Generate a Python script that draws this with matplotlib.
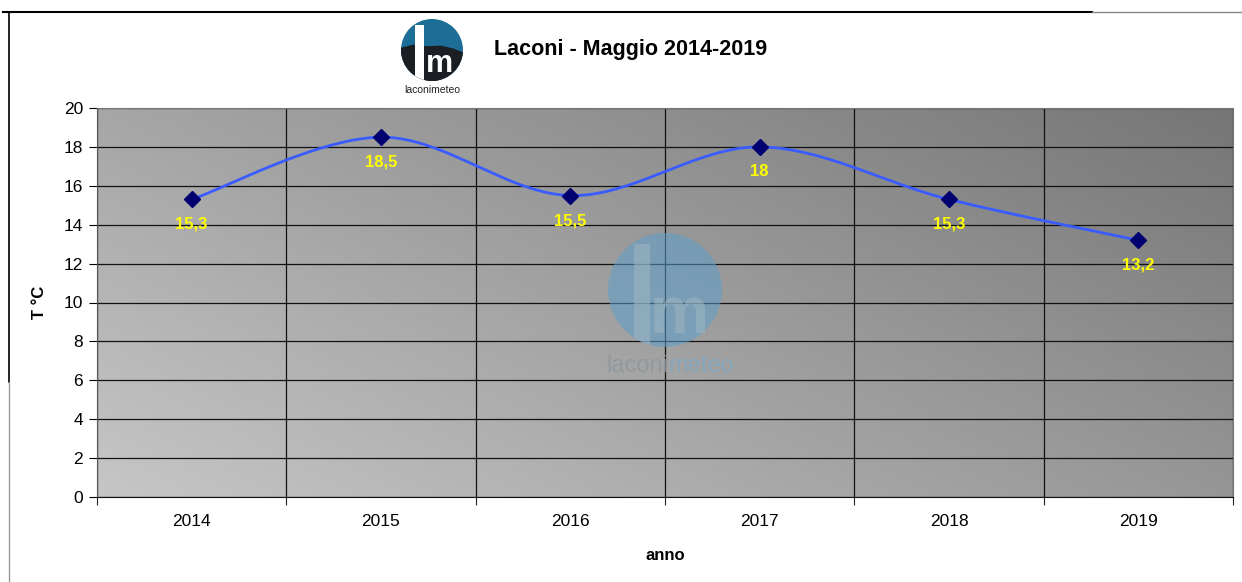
import numpy as np
import matplotlib
matplotlib.use("Agg")
import matplotlib.pyplot as plt
from matplotlib.patches import Circle, Rectangle, Polygon
from matplotlib.lines import Line2D

plt.rcParams['font.family'] = ['Liberation Sans', 'DejaVu Sans']

# dati
anni = ["2014", "2015", "2016", "2017", "2018", "2019"]
temperature = [15.3, 18.5, 15.5, 18.0, 15.3, 13.2]
etichette = ["15,3", "18,5", "15,5", "18", "15,3", "13,2"]
titolo = "Laconi - Maggio 2014-2019"


# curva smussata stile Excel (bezier cubica)
def curva_smussata(x, y, n=40):
    x = np.asarray(x, float)
    y = np.asarray(y, float)
    px, py = [], []
    for i in range(len(x) - 1):
        x0, y0 = (x[i - 1], y[i - 1]) if i > 0 else (x[i], y[i])
        x3, y3 = (x[i + 2], y[i + 2]) if i + 2 < len(x) else (x[i + 1], y[i + 1])
        c1x = x[i] + (x[i + 1] - x0) / 6
        c1y = y[i] + (y[i + 1] - y0) / 6
        c2x = x[i + 1] - (x3 - x[i]) / 6
        c2y = y[i + 1] - (y3 - y[i]) / 6
        t = np.linspace(0, 1, n)
        bx = (1-t)**3*x[i] + 3*(1-t)**2*t*c1x + 3*(1-t)*t**2*c2x + t**3*x[i+1]
        by = (1-t)**3*y[i] + 3*(1-t)**2*t*c1y + 3*(1-t)*t**2*c2y + t**3*y[i+1]
        px.extend(bx)
        py.extend(by)
    return px, py


def logo(fig, cx, cy, r, col_cerchio, col_scuro, col_chiaro, m_size=30, zorder=1, alpha=1.0):
    # cx, cy, r in pixel
    W, H = fig.get_size_inches() * fig.dpi
    ax = fig.add_axes([(cx - r) / W, (cy - r) / H, 2 * r / W, 2 * r / H], zorder=zorder)
    ax.set_xlim(-1, 1)
    ax.set_ylim(-1, 1)
    ax.axis('off')
    ax.patch.set_alpha(0)
    c = Circle((0, 0), 1, color=col_cerchio, alpha=alpha, lw=0)
    ax.add_patch(c)
    if col_scuro is not None:
        scuro = Polygon([(-1, -1), (-1, 0.05), (-0.6, 0.15), (-0.2, 0.1), (0.3, 0.12),
                         (0.7, 0.02), (1, -0.1), (1, -1)], color=col_scuro, alpha=alpha)
        ax.add_patch(scuro)
        scuro.set_clip_path(c)
    barra = Rectangle((-0.55, -1.2), 0.28, 2.0, color=col_chiaro, alpha=alpha, lw=0)
    ax.add_patch(barra)
    barra.set_clip_path(c)
    ax.text(0.25, -0.45, "m", color=col_chiaro, fontsize=m_size, fontweight='bold',
            ha='center', va='center', alpha=alpha)
    return ax


fig = plt.figure(figsize=(12.42, 5.82), dpi=100)
ax = fig.add_axes([97 / 1242, 1 - 497 / 582, 1136 / 1242, 389 / 582], zorder=0)

x = np.arange(len(anni))
ax.set_xlim(-0.5, len(anni) - 0.5)
ax.set_ylim(0, 20)

# sfondo sfumato
gx, gy = np.meshgrid(np.linspace(0, 1, 200), np.linspace(0, 1, 200))
g = (gx * 0.6 + gy * 0.4)
ax.imshow(g, extent=[0, 1, 0, 1], transform=ax.transAxes, origin='lower',
          cmap=matplotlib.colors.LinearSegmentedColormap.from_list('g', ['#c6c6c6', '#767676']),
          aspect='auto', zorder=0)

ax.set_yticks(np.arange(0, 21, 2))
ax.set_xticks(x)
ax.set_xticklabels(anni)
ax.set_xticks(np.arange(-0.5, len(anni), 1), minor=True)
ax.tick_params(axis='x', which='major', length=0, pad=12, labelsize=12.5)
ax.tick_params(axis='x', which='minor', length=6, width=0.8, color='#222222')
ax.tick_params(axis='y', length=6, width=0.8, labelsize=12.5, pad=4)
ax.grid(axis='y', color='#111111', linewidth=0.9, zorder=1)
ax.grid(axis='x', which='minor', color='#111111', linewidth=0.9, zorder=1)

for s in ['top', 'right']:
    ax.spines[s].set_color('#777777')
ax.spines['left'].set_color('#555555')
ax.spines['bottom'].set_color('#111111')

# watermark semitrasparente
logo(fig, 665, 582 - 290, 57, '#5f9fcc', None, '#9fb6c4', m_size=48, zorder=1, alpha=0.55)
fig.text(668 / 1242, 1 - 366 / 582, "laconi", color='#8e979d', fontsize=17,
         ha='right', va='center', zorder=2, alpha=0.8)
fig.text(668 / 1242, 1 - 366 / 582, "meteo", color='#7fa7c2', fontsize=17,
         ha='left', va='center', zorder=2, alpha=0.8)

# curva in un asse trasparente sopra il watermark
ax2 = fig.add_axes(ax.get_position(), zorder=3)
ax2.set_xlim(ax.get_xlim())
ax2.set_ylim(ax.get_ylim())
ax2.axis('off')
ax2.patch.set_alpha(0)
sx, sy = curva_smussata(x, temperature)
ax2.plot(sx, sy, color='#3a5cff', linewidth=2, zorder=3)
ax2.plot(x, temperature, linestyle='none', marker='D', markersize=8,
         color='#000070', zorder=4)
for xi, yi, lab in zip(x, temperature, etichette):
    ax2.annotate(lab, (xi, yi), xytext=(0, -18), textcoords='offset points',
                 ha='center', va='center', color='#ffff00', fontsize=12,
                 fontweight='bold', zorder=5)

ax.set_ylabel("T °C", fontsize=12, fontweight='bold', labelpad=12)
ax.set_xlabel("anno", fontsize=12, fontweight='bold', labelpad=14)

# titolo e logo
fig.text(494 / 1242, 1 - 50 / 582, titolo, fontsize=15.5, fontweight='bold',
         ha='left', va='center')
logo(fig, 432, 582 - 50, 31, '#1c6e97', '#1b1f24', 'white', m_size=22)
fig.text(432 / 1242, 1 - 90 / 582, "laconimeteo", fontsize=7.5, ha='center',
         va='center', color='#222222')

# cornice
fig.add_artist(Line2D([3 / 1242, 1092 / 1242], [1 - 12 / 582] * 2, color='black', lw=1.5))
fig.add_artist(Line2D([1092 / 1242, 1], [1 - 12 / 582] * 2, color='#888888', lw=1))
fig.add_artist(Line2D([9 / 1242] * 2, [1 - 12 / 582, 1 - 382 / 582], color='black', lw=1.2))
fig.add_artist(Line2D([9 / 1242] * 2, [1 - 382 / 582, 0], color='#999999', lw=1))

fig.savefig("out.png", dpi=100)
